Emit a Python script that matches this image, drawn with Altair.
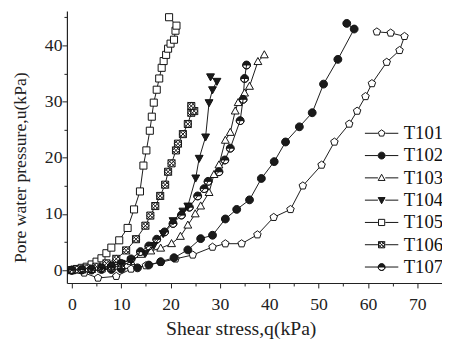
import math
import altair as alt
import pandas as pd

series = ["T101", "T102", "T103", "T104", "T105", "T106", "T107"]

T101_q = [0, 2.5, 5.3, 9.0, 12.0, 15.0, 18.0, 21.0, 24.5, 28.5, 31.1, 34.4, 37.6, 40.9, 44.3, 46.8, 50.6, 53.2, 56.2, 57.8, 59.5, 60.8, 63.8, 66.4, 67.4, 64.6, 61.8]
T101_u = [0, -0.5, -1.4, -1.1, 0.2, 0.8, 1.4, 2.0, 2.7, 4.1, 4.7, 4.7, 6.3, 9.4, 10.8, 15.0, 18.7, 22.8, 26.0, 28.3, 30.9, 33.2, 37.0, 39.1, 41.6, 42.2, 42.4]

T102_q = [0, 2, 4, 6, 8, 10, 13.3, 15.6, 18.0, 20.7, 23.5, 26.1, 28.5, 31.1, 33.4, 36.0, 38.4, 41.0, 43.3, 46.1, 48.7, 51.0, 53.9, 57.2, 55.7]
T102_u = [0, 0, 0, 0.1, 0.1, 0.2, 0.4, 0.9, 1.5, 2.2, 3.6, 5.6, 6.2, 9.1, 10.8, 12.5, 16.3, 19.3, 22.8, 25.5, 28.0, 33.1, 37.5, 42.9, 43.9]

T103_q = [0, 2, 4, 6, 8, 10, 12, 14, 16, 18, 20.2, 22, 23.5, 25, 26.1, 27.8, 28.8, 29.8, 31.1, 32.1, 33.1, 33.7, 35.0, 36.0, 37.7, 39.0]
T103_u = [0, 0, 0.1, 0.2, 0.4, 0.8, 1.5, 2.8, 3.4, 3.9, 4.7, 6.0, 8.0, 10.0, 11.4, 13.8, 17.0, 18.7, 23.1, 24.5, 28.3, 29.8, 31.5, 32.7, 37.1, 38.3]

T104_q = [0, 2, 4, 6, 8, 10, 12, 14.9, 16.6, 18.5, 20.5, 22.5, 23.5, 25.1, 25.8, 27.1, 27.8, 28.5, 29.4, 28.1]
T104_u = [0, 0.1, 0.3, 0.5, 0.8, 1.2, 1.8, 3.0, 4.4, 6.5, 8.8, 10.5, 11.4, 16.4, 19.9, 23.7, 29.8, 32.1, 33.6, 34.4]

T105_q = [0, 1, 2, 3, 4, 5, 6, 7, 8, 9.6, 11.3, 12.6, 13.8, 14.5, 15.1, 15.8, 16.2, 16.6, 17.2, 17.7, 18.2, 18.6, 19.1, 19.5, 20.0, 20.7, 21.0, 21.2, 19.7]
T105_u = [0, 0.2, 0.4, 0.6, 1.0, 1.5, 2.1, 3.0, 4.0, 5.3, 7.5, 10.8, 14.0, 18.6, 21.3, 24.8, 27.3, 29.8, 32.1, 34.1, 36.0, 37.2, 38.3, 39.4, 40.3, 41.0, 42.6, 43.5, 45.0]

T106_q = [0, 1, 3, 5, 7, 9, 11, 13, 14.9, 15.9, 16.9, 17.9, 18.9, 19.5, 20.2, 21.1, 21.5, 22.5, 23.5, 24.2, 24.8, 24.2]
T106_u = [0, 0.1, 0.3, 0.6, 1.2, 2.0, 3.5, 5.5, 7.9, 9.7, 11.4, 13.2, 15.2, 17.5, 19.0, 21.3, 22.5, 24.2, 26.0, 28.0, 28.3, 29.2]

T107_q = [0, 2, 4, 6, 8, 10, 12, 13.9, 15.6, 17.2, 18.8, 20.5, 22.2, 23.8, 25.5, 26.8, 27.6, 29.8, 31.0, 32.1, 34.1, 34.7, 35.0, 35.4]
T107_u = [0, 0.1, 0.2, 0.4, 0.7, 1.2, 2.0, 3.3, 4.3, 5.5, 6.8, 8.3, 9.8, 11.2, 13.2, 14.5, 15.8, 17.5, 19.6, 21.7, 26.6, 30.4, 34.1, 36.5]

all_q = [T101_q, T102_q, T103_q, T104_q, T105_q, T106_q, T107_q]
all_u = [T101_u, T102_u, T103_u, T104_u, T105_u, T106_u, T107_u]

rows = []
for name, qs, us in zip(series, all_q, all_u):
    for i, (q, u) in enumerate(zip(qs, us)):
        rows.append({"series": name, "q": q, "u": u, "idx": i})
df = pd.DataFrame(rows)

# ---- marker shapes (SVG paths in unit box) ----
def poly(pts, r):
    return "M" + "L".join(f"{x*r:.3f},{y*r:.3f}" for x, y in pts) + "Z"

def circle(r):
    return f"M{-r:.3f},0A{r:.3f},{r:.3f} 0 1,0 {r:.3f},0A{r:.3f},{r:.3f} 0 1,0 {-r:.3f},0Z"

def half_circle(r):
    top = f"M{-r:.3f},0A{r:.3f},{r:.3f} 0 0,1 {r:.3f},0Z"
    pts = [(r * math.cos(math.radians(180 - 22.5 * k)), r * math.sin(math.radians(180 - 22.5 * k))) for k in range(9)]
    seq = pts + pts[::-1][1:]
    low = "M" + "L".join(f"{x:.3f},{y:.3f}" for x, y in seq)
    return top + low

PENT = [(0, -1), (0.951, -0.309), (0.588, 0.809), (-0.588, 0.809), (-0.951, -0.309)]
TRI_UP = [(0, -1.05), (1.0, 0.75), (-1.0, 0.75)]
TRI_DN = [(0, 1.05), (1.0, -0.75), (-1.0, -0.75)]
SQ = [(-0.9, -0.9), (0.9, -0.9), (0.9, 0.9), (-0.9, 0.9)]

def xsquare(r):
    a = 0.9 * r
    return (poly(SQ, r) + f"M{-a:.3f},{-a:.3f}L{a:.3f},{a:.3f}M{a:.3f},{-a:.3f}L{-a:.3f},{a:.3f}"
            + f"M0,{-a:.3f}L{a:.3f},0L0,{a:.3f}L{-a:.3f},0Z")

def shapes(r):
    return [poly(PENT, r), circle(r), poly(TRI_UP, r), poly(TRI_DN, r), poly(SQ, r), xsquare(r), half_circle(r)]

main_paths = shapes(1.0)
dash = "M-3.4,0H-0.75M0.75,0H3.4"
legend_paths = [dash + p for p in shapes(0.7)]
fills = ["white", "#1a1a1a", "white", "#1a1a1a", "white", "white", "#1a1a1a"]
strokes = ["#111"] * 7

FONT = "Times New Roman, Liberation Serif, serif"

x_enc = alt.X("q:Q", scale=alt.Scale(domain=[-1, 75], nice=False, zero=False),
              axis=alt.Axis(values=list(range(0, 76, 5)),
                            labelExpr="datum.value % 10 === 0 ? datum.label : ''",
                            tickSize={"condition": {"test": "datum.value % 10 !== 0", "value": 3}, "value": 5},
                            title="Shear stress,q(kPa)", titleX=177, titleY=46, titleFontSize=20,
                            titleBaseline="middle", titleAnchor="middle",
                            labelPadding=8))
y_enc = alt.Y("u:Q", scale=alt.Scale(domain=[-2.3, 46.1], nice=False, zero=False),
              axis=alt.Axis(values=list(range(0, 46, 5)),
                            labelExpr="datum.value % 10 === 0 ? datum.label : ''",
                            tickSize={"condition": {"test": "datum.value % 10 !== 0", "value": 3}, "value": 5},
                            title="Pore water pressure,u(kPa)", titleX=-47, titleY=159,
                            titleAngle=270, titleBaseline="middle", titleAnchor="middle",
                            labelPadding=0))

base = alt.Chart(df)

lines = base.mark_line(color="#1a1a1a", strokeWidth=1).encode(
    x=x_enc, y=y_enc, detail="series:N", order="idx:Q")

points = base.mark_point(filled=True, stroke="#111", strokeWidth=1, size=64, opacity=1).encode(
    x=x_enc, y=y_enc,
    shape=alt.Shape("series:N", scale=alt.Scale(domain=series, range=main_paths), legend=None),
    fill=alt.Fill("series:N", scale=alt.Scale(domain=series, range=fills), legend=None),
)

leg = alt.Legend(title=None, orient="none", legendX=311, legendY=115, symbolSize=100,
                 symbolStrokeWidth=1, symbolOpacity=1,
                 labelFont=FONT, labelFontSize=19, labelColor="#111", rowPadding=2.7,
                 labelOffset=13, padding=0)

legend_layer = base.transform_filter("datum.q > 1000").mark_point(
    filled=True, strokeWidth=1, size=100, opacity=1).encode(
    x=x_enc, y=y_enc,
    shape=alt.Shape("series:N", scale=alt.Scale(domain=series, range=legend_paths), legend=leg),
    fill=alt.Fill("series:N", scale=alt.Scale(domain=series, range=fills), legend=leg),
    stroke=alt.Stroke("series:N", scale=alt.Scale(domain=series, range=strokes), legend=leg),
)

chart = alt.layer(lines, points, legend_layer).resolve_scale(
    shape="independent", fill="independent", stroke="independent"
).properties(
    width=382, height=277,
    autosize=alt.AutoSizeParams(type="none"),
    padding={"left": 60, "top": 0, "right": 0, "bottom": 59},
).configure_view(stroke=None).configure_axis(
    grid=False, domainColor="#222", domainWidth=1.2, tickColor="#222", tickWidth=1,
    labelFont=FONT, labelFontSize=18, labelColor="#222",
    titleFont=FONT, titleFontSize=18, titleColor="#222", titleFontWeight="normal",
)

chart.save("out.html", embed_options={"renderer": "svg", "actions": False})
